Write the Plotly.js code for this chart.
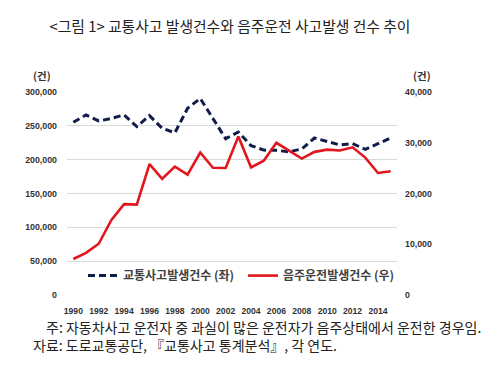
<!DOCTYPE html>
<html>
<head>
<meta charset="utf-8">
<script src="https://cdn.plot.ly/plotly-3.0.1.min.js"></script>
<style>html,body{margin:0;padding:0;background:#fff;}#chart{width:500px;height:374px;}</style>
</head>
<body>
<div id="chart"></div>
<script>
// Data
const years = [1990,1991,1992,1993,1994,1995,1996,1997,1998,1999,2000,2001,2002,2003,2004,2005,2006,2007,2008,2009,2010,2011,2012,2013,2014,2015];
const accidents = [255303,265964,257194,260921,266107,248865,265052,246452,239721,275938,290481,260579,231026,240832,220755,214171,213745,211662,215822,231990,226878,221711,223656,215354,223552,232035];
const drunkAccidents = [7100,8300,10100,14800,17900,17800,25800,22900,25300,23700,28074,25059,25028,31227,25150,26460,29990,28416,26873,28207,28641,28461,29093,27072,24043,24399];
const xTickVals = [1990,1992,1994,1996,1998,2000,2002,2004,2006,2008,2010,2012,2014];
const leftTicks = [0,50000,100000,150000,200000,250000,300000];
const rightTicks = [0,10000,20000,30000,40000];
const seriesNames = ['교통사고발생건수 (좌)', '음주운전발생건수 (우)'];
const titleText = '&lt;그림 1&gt; 교통사고 발생건수와 음주운전 사고발생 건수 추이';
const noteText = '주: 자동차사고 운전자 중 과실이 많은 운전자가 음주상태에서 운전한 경우임.';
const sourceText = '자료: 도로교통공단, 『교통사고 통계분석』, 각 연도.';
const unitLabel = '(건)';

// Layout geometry (px)
const W = 500, H = 374;
const L = 67, R = 397, T = 91.5, B = 295.5;
const px2x = p => (p - L) / (R - L);
const px2y = p => (B - p) / (B - T);

const fmt = v => v.toLocaleString('en-US');
const kr = '"Noto Sans CJK KR", "Noto Sans", sans-serif';
const num = '"Liberation Sans", Arial, sans-serif';

const traces = [
  {
    x: years, y: accidents, name: seriesNames[0], type: 'scatter', mode: 'lines',
    line: {color: '#101d4a', width: 3, dash: '7px,4px'}, yaxis: 'y', legend: 'legend'
  },
  {
    x: years, y: drunkAccidents, name: seriesNames[1], type: 'scatter', mode: 'lines',
    line: {color: '#e2161d', width: 2.6}, yaxis: 'y2', legend: 'legend2'
  }
];

const layout = {
  width: W, height: H,
  margin: {l: L, r: W - R, t: T, b: H - B, pad: 0},
  paper_bgcolor: '#fff', plot_bgcolor: '#fff',
  showlegend: true,
  title: {
    text: titleText, x: 230 / W, xanchor: 'center', y: 1 - 27 / H, yanchor: 'middle',
    xref: 'container', yref: 'container',
    font: {family: kr, size: 14.8, color: '#222'}
  },
  xaxis: {
    range: [1989.5, 2015.5], tickmode: 'array', tickvals: xTickVals,
    ticktext: xTickVals.map(String), showgrid: false, zeroline: false,
    showline: false, ticks: '', ticklabelstandoff: 9,
    tickfont: {family: num, size: 8.6, color: '#333', weight: 'bold'}
  },
  yaxis: {
    range: [0, 300000], tickmode: 'array', tickvals: leftTicks,
    ticktext: leftTicks.map(fmt), showgrid: true, gridcolor: '#d9d9d9', gridwidth: 1,
    zeroline: false, showline: false, ticks: '', ticklabelstandoff: 9,
    tickfont: {family: num, size: 8.8, color: '#333', weight: 'bold'}
  },
  yaxis2: {
    range: [0, 40000], overlaying: 'y', side: 'right', tickmode: 'array',
    tickvals: rightTicks, ticktext: rightTicks.map(fmt), showgrid: false,
    zeroline: false, showline: false, ticks: '', ticklabelstandoff: 7,
    tickfont: {family: num, size: 8.8, color: '#333', weight: 'bold'}
  },
  legend: {
    x: px2x(83), xanchor: 'left', y: px2y(276), yanchor: 'middle',
    bgcolor: 'rgba(0,0,0,0)', borderwidth: 0, orientation: 'h',
    font: {family: kr, size: 12, color: '#404040', weight: 'bold'}
  },
  legend2: {
    x: px2x(243), xanchor: 'left', y: px2y(276), yanchor: 'middle',
    bgcolor: 'rgba(0,0,0,0)', borderwidth: 0, orientation: 'h',
    font: {family: kr, size: 12, color: '#404040', weight: 'bold'}
  },
  annotations: [
    {text: unitLabel, xref: 'paper', yref: 'paper', x: px2x(42), y: px2y(75),
     xanchor: 'center', yanchor: 'middle', showarrow: false,
     font: {family: kr, size: 10.5, color: '#333', weight: 'bold'}},
    {text: unitLabel, xref: 'paper', yref: 'paper', x: px2x(422), y: px2y(75),
     xanchor: 'center', yanchor: 'middle', showarrow: false,
     font: {family: kr, size: 10.5, color: '#333', weight: 'bold'}},
    {text: noteText, xref: 'paper', yref: 'paper', x: px2x(44), y: px2y(328),
     xanchor: 'left', yanchor: 'middle', showarrow: false,
     font: {family: kr, size: 14, color: '#222'}},
    {text: sourceText, xref: 'paper', yref: 'paper', x: px2x(31), y: px2y(346),
     xanchor: 'left', yanchor: 'middle', showarrow: false,
     font: {family: kr, size: 14, color: '#222'}}
  ]
};

Plotly.newPlot('chart', traces, layout, {displayModeBar: false, staticPlot: true});
</script>
</body>
</html>
